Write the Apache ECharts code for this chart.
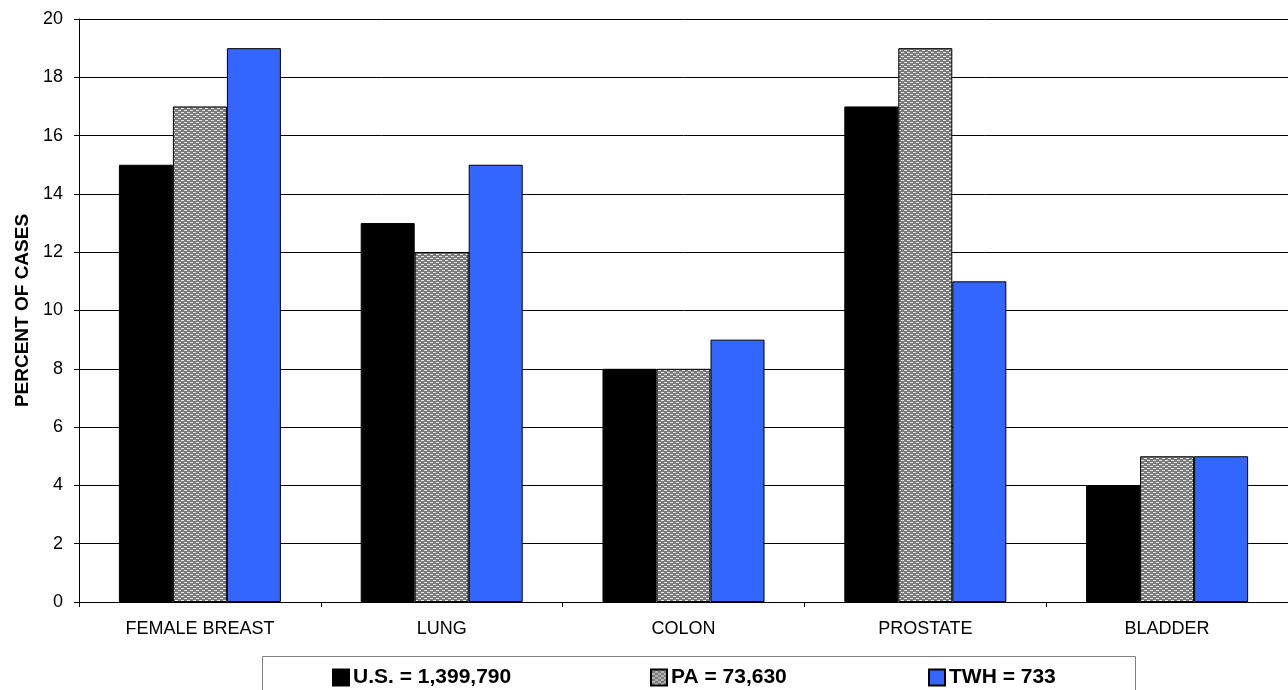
<!DOCTYPE html>
<html><head><meta charset="utf-8">
<script src="https://cdn.jsdelivr.net/npm/echarts@6/dist/echarts.min.js"></script>
<style>html,body{margin:0;padding:0;background:#fff}#c{width:1288px;height:690px}</style>
</head><body><div id="c"></div>
<script>
var categories = ['FEMALE BREAST','LUNG','COLON','PROSTATE','BLADDER'];
var seriesNames = ['U.S. = 1,399,790','PA = 73,630','TWH = 733'];
var usValues = [15,13,8,17,4];
var paValues = [17,12,8,19,5];
var twhValues = [19,15,9,11,5];
var yTicks = [0,2,4,6,8,10,12,14,16,18,20];

var pc = document.createElement('canvas');
pc.width = 6; pc.height = 4;
var g = pc.getContext('2d');
g.fillStyle = '#7a7a7a'; g.fillRect(0,0,6,4);
g.fillStyle = '#e8e8e8';
g.fillRect(1,0,3,1);
g.fillRect(4,2,2,1); g.fillRect(0,2,1,1);
var pattern = {image: pc, repeat: 'repeat'};

var chart = echarts.init(document.getElementById('c'));
var font = 'Arial, "Liberation Sans", sans-serif';
function legend(i, left){
  return {data:[seriesNames[i]], left:left, top:667, padding:0, icon:'rect', itemWidth:16, itemHeight:16, itemGap:0,
    textStyle:{fontFamily:font, fontSize:21, fontWeight:'bold', color:'#000', padding:[0,0,0,-1]},
    selectedMode:false};
}
chart.setOption({
  animation:false,
  grid:{left:79, right:-1, top:19, bottom:88},
  graphic:[{type:'rect', shape:{x:262.5,y:656.5,width:873,height:40}, style:{fill:'#fff', stroke:'#808080', lineWidth:1}, z:-1}],
  legend:[legend(0,332), legend(1,650), legend(2,928)],
  xAxis:{type:'category', data:categories,
    axisLine:{lineStyle:{color:'#000'}},
    axisTick:{show:true, length:5, lineStyle:{color:'#000'}},
    axisLabel:{fontFamily:font, fontSize:18, color:'#000', margin:18}},
  yAxis:{type:'value', min:0, max:20, interval:2,
    name:'PERCENT OF CASES', nameLocation:'middle', nameGap:46, nameRotate:90,
    nameTextStyle:{fontFamily:font, fontSize:19, fontWeight:'bold', color:'#000'},
    axisLine:{show:true, lineStyle:{color:'#000'}},
    axisTick:{show:true, length:5, lineStyle:{color:'#000'}},
    axisLabel:{fontFamily:font, fontSize:18, color:'#000', margin:16,
      formatter:function(v){return yTicks.indexOf(v)>=0? String(v):'';}},
    splitLine:{show:true, lineStyle:{color:'#000', width:1}}},
  series:[
    {name:seriesNames[0], type:'bar', data:usValues, barGap:'0%', barCategoryGap:'33%',
      itemStyle:{color:'#000', borderColor:'#000', borderWidth:1}},
    {name:seriesNames[1], type:'bar', data:paValues,
      itemStyle:{color:pattern, borderColor:'#000', borderWidth:1}},
    {name:seriesNames[2], type:'bar', data:twhValues,
      itemStyle:{color:'#3366ff', borderColor:'#000', borderWidth:1}}
  ]
});
</script></body></html>
